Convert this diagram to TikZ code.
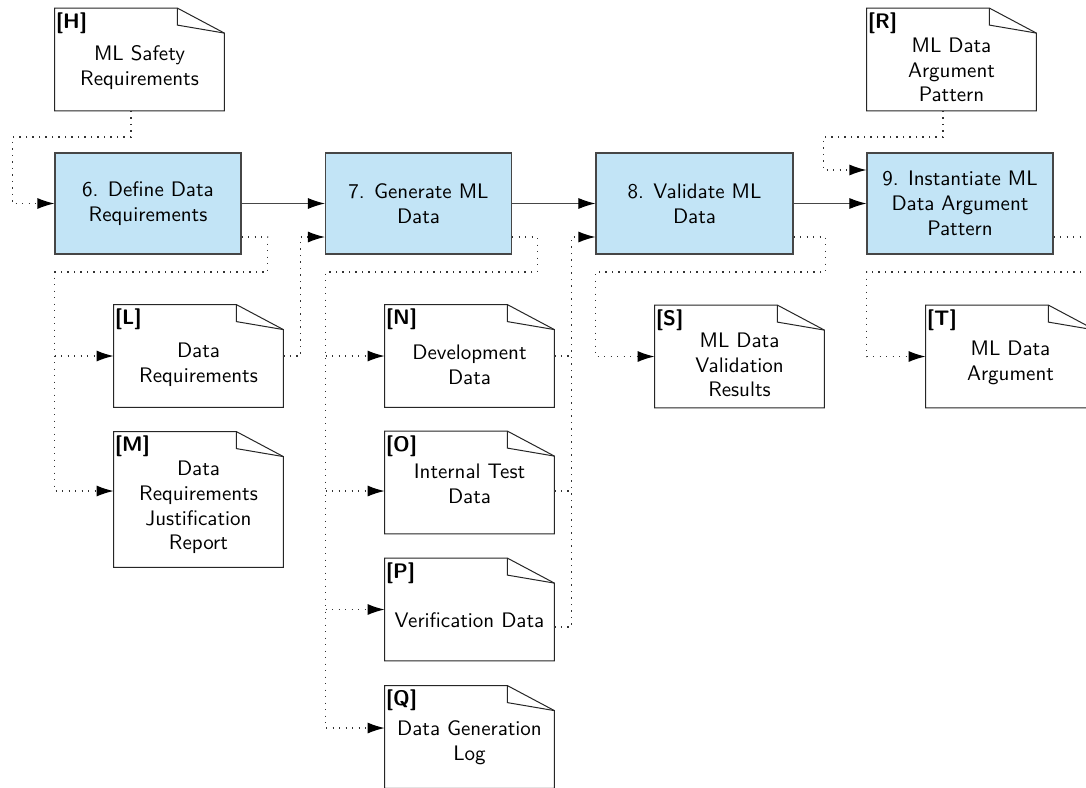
\documentclass[tikz,border=0pt]{standalone}
\usetikzlibrary{arrows.meta,calc}
\definecolor{procblue}{RGB}{194,228,246}
\definecolor{edgegray}{RGB}{70,70,70}
\tikzset{
  every node/.style={font=\sffamily\fontsize{10.5}{12.4}\selectfont},
  proc/.style={draw=edgegray, line width=0.6pt, fill=procblue, minimum height=50.5pt, minimum width=93pt, align=center, inner sep=0pt},
  doc/.style={minimum width=84.5pt, minimum height=51pt, inner sep=0pt},
  doclabel/.style={anchor=north west, inner sep=0pt, font=\sffamily\bfseries\fontsize{10.5}{12.4}\selectfont},
  doctext/.style={align=center, inner sep=0pt},
  docline/.style={draw=black!85, line width=0.5pt, line join=miter},
  tipstyle/.style={-{Latex[length=8.5pt,width=5.5pt,black,fill=black]}},
  solidarrow/.style={draw=edgegray, line width=0.5pt, tipstyle},
  dotline/.style={draw=black!80, line width=0.6pt, dash pattern=on 0.6pt off 2.65pt},
  dotarrow/.style={dotline, tipstyle},
}
\newcommand\dogear[1]{%
  \draw[docline, fill=white] (#1.north west) -- ([xshift=-23.5pt]#1.north east) -- ([yshift=-12.5pt]#1.north east) -- (#1.south east) -- (#1.south west) -- cycle;
  \draw[docline] ([xshift=-23.5pt]#1.north east) -- ([xshift=-23.5pt,yshift=-8.5pt]#1.north east) -- ([yshift=-12.5pt]#1.north east);}
\newcommand\docnode[6]{%
  \node[doc, minimum height=#3] (#1) at #2 {};
  \dogear{#1}
  \node[doclabel] (#1-lbl) at ([shift={(0.5pt,-2pt)}]#1.north west) {[#4]};
  \node[doctext] (#1-txt) at ([yshift=-#6]#1.center) {#5};}
\begin{document}
\begin{tikzpicture}[x=0.5pt, y=-0.5pt]
\useasboundingbox (0,0) rectangle (1086,787);
\fill[white] (0,0) rectangle (1086,787);
\clip (0,0) rectangle (1086,787);

% process boxes
\node[proc] (p6) at (148,203.5) {6. Define Data\\Requirements};
\node[proc] (p7) at (418.5,203.5) {7. Generate ML\\Data};
\node[proc, minimum width=98.5pt] (p8) at (694.5,203.5) {8. Validate ML\\Data};
\node[proc] (p9) at (960,203.5) {9. Instantiate ML\\Data Argument\\Pattern};

% documents
\docnode{H}{(139.5,59.5)}{51pt}{H}{ML Safety\\Requirements}{4pt}
\docnode{R}{(951.5,59.5)}{51pt}{R}{ML Data\\Argument\\Pattern}{5.25pt}
\docnode{L}{(198.5,356)}{51pt}{L}{Data\\Requirements}{4.25pt}
\docnode{M}{(198.5,499.5)}{67.5pt}{M}{Data\\Requirements\\Justification\\Report}{4pt}
\docnode{N}{(469.5,356)}{51pt}{N}{Development\\Data}{4.5pt}
\docnode{O}{(469.5,482.5)}{51pt}{O}{Internal Test\\Data}{0.75pt}
\docnode{P}{(469.5,609.5)}{51pt}{P}{Verification Data}{5.25pt}
\docnode{Q}{(469.5,737)}{51pt}{Q}{Data Generation\\Log}{3pt}
\docnode{S}{(739.5,356.5)}{51pt}{S}{ML Data\\Validation\\Results}{4.25pt}
\docnode{T}{(1010.5,356.5)}{51pt}{T}{ML Data\\Argument}{3pt}

% solid flow
\draw[solidarrow] (p6.east) -- (p7.west);
\draw[solidarrow] (p7.east) -- (p8.west);
\draw[solidarrow] (p8.east) -- (p9.west);

% H -> 6
\draw[dotarrow] ([xshift=-4.25pt]H.south) -- ++(0,26) -| ($(p6.west)+(-42,0)$) -- (p6.west);

% 6 -> L, M
\coordinate (c6) at ($(L.west)+(-59,0)$);
\coordinate (min) at ([yshift=4.25pt]M.west);
\draw[dotarrow] ([yshift=-16.75pt]p6.east) -- ++(26,0) -- ++(0,35) -| (c6 |- min) -- (min);
\draw[dotarrow] (c6) -- (L.west);

% L -> 7
\draw[dotarrow] (L.east) -- ++(17,0) |- ([yshift=-16.75pt]p7.west);

% 7 -> N, O, P, Q
\coordinate (c7) at ($(N.west)+(-59,0)$);
\coordinate (oin) at ([yshift=-4.25pt]O.west);
\coordinate (qin) at ([yshift=4.5pt]Q.west);
\draw[dotarrow] ([yshift=-16.75pt]p7.east) -- ++(25,0) -- ++(0,35) -| (c7 |- qin) -- (qin);
\draw[dotarrow] (c7) -- (N.west);
\draw[dotarrow] (c7 |- oin) -- (oin);
\draw[dotarrow] (c7 |- P.west) -- (P.west);

% N, O, P -> 8
\coordinate (v8) at ($(N.east)+(17,0)$);
\coordinate (oout) at ([yshift=-4.25pt]O.east);
\coordinate (pout) at ([yshift=-8.75pt]P.east);
\draw[dotarrow] (pout) -| (v8) |- ([yshift=-16.75pt]p8.west);
\draw[dotline] (N.east) -- (v8);
\draw[dotline] (oout) -- (oout -| v8);

% 8 -> S
\draw[dotarrow] ([yshift=-16.75pt]p8.east) -- ++(32,0) -- ++(0,35) -| ($(S.west)+(-59,0)$) -- (S.west);

% R -> 9
\coordinate (r9) at ([yshift=16.75pt]p9.west);
\draw[dotarrow] ([xshift=-4.25pt]R.south) -- ++(0,26) -| ($(r9)+(-43,0)$) -- (r9);

% 9 -> T
\draw[dotarrow] ([yshift=-16.75pt]p9.east) -- ++(45,0) -- ++(0,35) -| ($(T.west)+(-59,0)$) -- (T.west);
\end{tikzpicture}
\end{document}
